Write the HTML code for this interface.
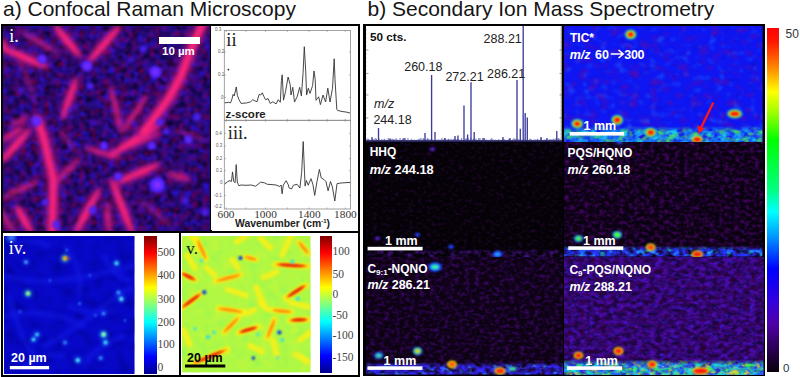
<!DOCTYPE html><html><head><meta charset="utf-8"><style>
html,body{margin:0;padding:0;background:#fff;}
#root{position:relative;width:800px;height:377px;overflow:hidden;background:#fff;font-family:'Liberation Sans',sans-serif;}
.a{position:absolute;}
.t{position:absolute;white-space:nowrap;line-height:1;}
.w{color:#fff;font-weight:bold;font-size:12px;}
</style></head><body><div id="root">
<div class="t" style="left:3px;top:-1.8px;font-size:21px;color:#151515;">a) Confocal Raman Microscopy</div>
<div class="t" style="left:367.5px;top:-1.6px;font-size:21px;color:#151515;">b) Secondary Ion Mass Spectrometry</div>
<div class="a" style="left:1px;top:24px;width:359px;height:353px;box-sizing:border-box;border:2px solid #000;border-right-width:2.5px;"></div>
<svg class="a" style="left:3px;top:26px" width="207" height="205" viewBox="0 0 207 205"><defs><filter color-interpolation-filters="sRGB" id="nib" x="0" y="0" width="100%" height="100%"><feTurbulence type="fractalNoise" baseFrequency="0.14" numOctaves="2" seed="3"/><feColorMatrix type="matrix" values="0 0 0 0 0.16  0 0 0 0 0.08  0 0 0 0 0.92  2.6 0 0 0 -1.05"/><feGaussianBlur stdDeviation="0.8"/></filter><filter color-interpolation-filters="sRGB" id="nid" x="0" y="0" width="100%" height="100%"><feTurbulence type="fractalNoise" baseFrequency="0.17" numOctaves="2" seed="8"/><feColorMatrix type="matrix" values="0 0 0 0 0.05  0 0 0 0 0.01  0 0 0 0 0.16  2.6 0 0 0 -1.0"/><feGaussianBlur stdDeviation="0.8"/></filter><filter color-interpolation-filters="sRGB" id="nir" x="0" y="0" width="100%" height="100%"><feTurbulence type="fractalNoise" baseFrequency="0.17" numOctaves="2" seed="13"/><feColorMatrix type="matrix" values="0 0 0 0 0.45  0 0 0 0 0.0  0 0 0 0 0.32  2.6 0 0 0 -1.2"/><feGaussianBlur stdDeviation="0.8"/></filter><filter color-interpolation-filters="sRGB" id="bi" x="-20%" y="-20%" width="140%" height="140%"><feGaussianBlur stdDeviation="1.9"/></filter><filter color-interpolation-filters="sRGB" id="bg" x="-20%" y="-20%" width="140%" height="140%"><feGaussianBlur stdDeviation="3.2"/></filter><filter color-interpolation-filters="sRGB" id="bb" x="-50%" y="-50%" width="200%" height="200%"><feGaussianBlur stdDeviation="1.8"/></filter></defs><rect width="207" height="205" fill="#2a0c80"/><rect width="207" height="205" filter="url(#nib)"/><rect width="207" height="205" filter="url(#nid)"/><rect width="207" height="205" filter="url(#nir)"/><g filter="url(#bg)"><ellipse cx="22.3" cy="31.8" rx="27.0" ry="6.30" transform="rotate(23.2 22.3 31.8)" fill="#c01890" fill-opacity="0.55"/><ellipse cx="36.2" cy="16.2" rx="24.7" ry="5.25" transform="rotate(30.3 36.2 16.2)" fill="#c01890" fill-opacity="0.275"/><ellipse cx="64.3" cy="14.9" rx="23.3" ry="6.30" transform="rotate(51.2 64.3 14.9)" fill="#c01890" fill-opacity="0.55"/><ellipse cx="101.0" cy="18.4" rx="26.9" ry="6.30" transform="rotate(130.9 101.0 18.4)" fill="#c01890" fill-opacity="0.55"/><ellipse cx="66.5" cy="72.4" rx="24.9" ry="5.78" transform="rotate(109.5 66.5 72.4)" fill="#c01890" fill-opacity="0.55"/><ellipse cx="113.0" cy="83.3" rx="26.8" ry="4.73" transform="rotate(76.4 113.0 83.3)" fill="#c01890" fill-opacity="0.385"/><ellipse cx="131.8" cy="87.5" rx="25.3" ry="4.73" transform="rotate(124.0 131.8 87.5)" fill="#c01890" fill-opacity="0.385"/><ellipse cx="1.0" cy="20.5" rx="9.6" ry="5.25" transform="rotate(70.0 1.0 20.5)" fill="#c01890" fill-opacity="0.49500000000000005"/><ellipse cx="16.5" cy="95.0" rx="13.5" ry="4.20" transform="rotate(-25.2 16.5 95.0)" fill="#c01890" fill-opacity="0.33"/><ellipse cx="12.4" cy="119.6" rx="24.1" ry="6.30" transform="rotate(-48.1 12.4 119.6)" fill="#c01890" fill-opacity="0.55"/><ellipse cx="9.5" cy="108.0" rx="15.6" ry="5.25" transform="rotate(-32.3 9.5 108.0)" fill="#c01890" fill-opacity="0.385"/><ellipse cx="64.3" cy="144.8" rx="20.8" ry="5.25" transform="rotate(-44.5 64.3 144.8)" fill="#c01890" fill-opacity="0.33"/><ellipse cx="18.1" cy="163.0" rx="22.0" ry="5.25" transform="rotate(-24.4 18.1 163.0)" fill="#c01890" fill-opacity="0.33"/><ellipse cx="21.0" cy="193.8" rx="18.8" ry="6.30" transform="rotate(60.3 21.0 193.8)" fill="#c01890" fill-opacity="0.55"/><ellipse cx="4.0" cy="195.0" rx="17.6" ry="5.25" transform="rotate(57.5 4.0 195.0)" fill="#c01890" fill-opacity="0.33"/><ellipse cx="84.2" cy="185.3" rx="29.3" ry="6.30" transform="rotate(118.5 84.2 185.3)" fill="#c01890" fill-opacity="0.55"/><ellipse cx="99.5" cy="126.8" rx="21.0" ry="5.25" transform="rotate(15.3 99.5 126.8)" fill="#c01890" fill-opacity="0.385"/><ellipse cx="131.9" cy="114.0" rx="32.6" ry="6.30" transform="rotate(-31.9 131.9 114.0)" fill="#c01890" fill-opacity="0.55"/><ellipse cx="134.7" cy="147.5" rx="27.0" ry="6.30" transform="rotate(-23.3 134.7 147.5)" fill="#c01890" fill-opacity="0.55"/><ellipse cx="175.6" cy="150.6" rx="14.5" ry="5.25" transform="rotate(15.9 175.6 150.6)" fill="#c01890" fill-opacity="0.385"/><ellipse cx="119.2" cy="181.0" rx="33.1" ry="6.30" transform="rotate(68.7 119.2 181.0)" fill="#c01890" fill-opacity="0.55"/><ellipse cx="105.2" cy="192.3" rx="18.4" ry="5.25" transform="rotate(84.1 105.2 192.3)" fill="#c01890" fill-opacity="0.385"/><ellipse cx="137.6" cy="115.4" rx="23.5" ry="5.25" transform="rotate(-22.7 137.6 115.4)" fill="#c01890" fill-opacity="0.33"/><ellipse cx="64.5" cy="114.0" rx="17.0" ry="4.20" transform="rotate(53.1 64.5 114.0)" fill="#c01890" fill-opacity="0.1925"/><ellipse cx="152.0" cy="186.5" rx="24.9" ry="4.20" transform="rotate(39.8 152.0 186.5)" fill="#c01890" fill-opacity="0.1925"/><ellipse cx="187.0" cy="109.0" rx="20.7" ry="4.20" transform="rotate(18.4 187.0 109.0)" fill="#c01890" fill-opacity="0.165"/><ellipse cx="24.5" cy="54.0" rx="26.9" ry="4.20" transform="rotate(69.4 24.5 54.0)" fill="#c01890" fill-opacity="0.165"/></g><g filter="url(#bi)"><ellipse cx="22.3" cy="31.8" rx="24.0" ry="2.85" transform="rotate(23.2 22.3 31.8)" fill="#ff2478" fill-opacity="1"/><ellipse cx="36.2" cy="16.2" rx="21.7" ry="2.38" transform="rotate(30.3 36.2 16.2)" fill="#ff2478" fill-opacity="0.5"/><ellipse cx="64.3" cy="14.9" rx="20.3" ry="2.85" transform="rotate(51.2 64.3 14.9)" fill="#ff2478" fill-opacity="1"/><ellipse cx="101.0" cy="18.4" rx="23.9" ry="2.85" transform="rotate(130.9 101.0 18.4)" fill="#ff2478" fill-opacity="1"/><ellipse cx="66.5" cy="72.4" rx="21.9" ry="2.61" transform="rotate(109.5 66.5 72.4)" fill="#ff2478" fill-opacity="1"/><ellipse cx="113.0" cy="83.3" rx="23.8" ry="2.14" transform="rotate(76.4 113.0 83.3)" fill="#ff2478" fill-opacity="0.7"/><ellipse cx="131.8" cy="87.5" rx="22.3" ry="2.14" transform="rotate(124.0 131.8 87.5)" fill="#ff2478" fill-opacity="0.7"/><ellipse cx="1.0" cy="20.5" rx="6.6" ry="2.38" transform="rotate(70.0 1.0 20.5)" fill="#ff2478" fill-opacity="0.9"/><ellipse cx="16.5" cy="95.0" rx="10.5" ry="1.90" transform="rotate(-25.2 16.5 95.0)" fill="#ff2478" fill-opacity="0.6"/><ellipse cx="12.4" cy="119.6" rx="21.1" ry="2.85" transform="rotate(-48.1 12.4 119.6)" fill="#ff2478" fill-opacity="1"/><ellipse cx="9.5" cy="108.0" rx="12.6" ry="2.38" transform="rotate(-32.3 9.5 108.0)" fill="#ff2478" fill-opacity="0.7"/><ellipse cx="64.3" cy="144.8" rx="17.8" ry="2.38" transform="rotate(-44.5 64.3 144.8)" fill="#ff2478" fill-opacity="0.6"/><ellipse cx="18.1" cy="163.0" rx="19.0" ry="2.38" transform="rotate(-24.4 18.1 163.0)" fill="#ff2478" fill-opacity="0.6"/><ellipse cx="21.0" cy="193.8" rx="15.8" ry="2.85" transform="rotate(60.3 21.0 193.8)" fill="#ff2478" fill-opacity="1"/><ellipse cx="4.0" cy="195.0" rx="14.6" ry="2.38" transform="rotate(57.5 4.0 195.0)" fill="#ff2478" fill-opacity="0.6"/><ellipse cx="84.2" cy="185.3" rx="26.3" ry="2.85" transform="rotate(118.5 84.2 185.3)" fill="#ff2478" fill-opacity="1"/><ellipse cx="99.5" cy="126.8" rx="18.0" ry="2.38" transform="rotate(15.3 99.5 126.8)" fill="#ff2478" fill-opacity="0.7"/><ellipse cx="131.9" cy="114.0" rx="29.6" ry="2.85" transform="rotate(-31.9 131.9 114.0)" fill="#ff2478" fill-opacity="1"/><ellipse cx="134.7" cy="147.5" rx="24.0" ry="2.85" transform="rotate(-23.3 134.7 147.5)" fill="#ff2478" fill-opacity="1"/><ellipse cx="175.6" cy="150.6" rx="11.5" ry="2.38" transform="rotate(15.9 175.6 150.6)" fill="#ff2478" fill-opacity="0.7"/><ellipse cx="119.2" cy="181.0" rx="30.1" ry="2.85" transform="rotate(68.7 119.2 181.0)" fill="#ff2478" fill-opacity="1"/><ellipse cx="105.2" cy="192.3" rx="15.4" ry="2.38" transform="rotate(84.1 105.2 192.3)" fill="#ff2478" fill-opacity="0.7"/><ellipse cx="137.6" cy="115.4" rx="20.5" ry="2.38" transform="rotate(-22.7 137.6 115.4)" fill="#ff2478" fill-opacity="0.6"/><ellipse cx="64.5" cy="114.0" rx="14.0" ry="1.90" transform="rotate(53.1 64.5 114.0)" fill="#ff2478" fill-opacity="0.35"/><ellipse cx="152.0" cy="186.5" rx="21.9" ry="1.90" transform="rotate(39.8 152.0 186.5)" fill="#ff2478" fill-opacity="0.35"/><ellipse cx="187.0" cy="109.0" rx="17.7" ry="1.90" transform="rotate(18.4 187.0 109.0)" fill="#ff2478" fill-opacity="0.3"/><ellipse cx="24.5" cy="54.0" rx="23.9" ry="1.90" transform="rotate(69.4 24.5 54.0)" fill="#ff2478" fill-opacity="0.3"/></g><g filter="url(#bg)" fill="none" stroke="#c01890" stroke-opacity="0.55" stroke-linecap="round" stroke-linejoin="round"><polyline stroke-width="15.8" points="199,-1 189,21 178,50 166,72 150,94 141,106"/><polyline stroke-width="14.7" points="35,94 42,117 50.4,153.4 49,206"/></g><g filter="url(#bi)" fill="none" stroke="#ff2478" stroke-linecap="round" stroke-linejoin="round"><polyline stroke-width="7.1" points="199,-1 189,21 178,50 166,72 150,94 141,106"/><polyline stroke-width="6.6" points="35,94 42,117 50.4,153.4 49,206"/></g><g filter="url(#bb)" fill="#4a22ff"><circle cx="39" cy="33" r="4.6" fill-opacity="1"/><circle cx="84" cy="40" r="5.75" fill-opacity="1"/><circle cx="152.5" cy="46" r="6.324999999999999" fill-opacity="1"/><circle cx="140" cy="23" r="3.4499999999999997" fill-opacity="0.8800000000000001"/><circle cx="87" cy="60" r="3.4499999999999997" fill-opacity="0.8800000000000001"/><circle cx="33.5" cy="95" r="5.175" fill-opacity="1"/><circle cx="194" cy="91" r="4.0249999999999995" fill-opacity="0.8800000000000001"/><circle cx="157" cy="96" r="3.4499999999999997" fill-opacity="0.8800000000000001"/><circle cx="101" cy="119.69999999999999" r="4.0249999999999995" fill-opacity="1"/><circle cx="148.8" cy="119.69999999999999" r="4.0249999999999995" fill-opacity="1"/><circle cx="185.4" cy="114" r="4.0249999999999995" fill-opacity="1"/><circle cx="154.4" cy="159" r="8.049999999999999" fill-opacity="1"/><circle cx="115" cy="150.6" r="4.0249999999999995" fill-opacity="0.9900000000000001"/><circle cx="89.8" cy="184" r="4.0249999999999995" fill-opacity="0.8800000000000001"/><circle cx="53" cy="198.4" r="4.0249999999999995" fill-opacity="0.8800000000000001"/><circle cx="202" cy="187" r="3.4499999999999997" fill-opacity="0.8800000000000001"/><circle cx="42" cy="176" r="3.4499999999999997" fill-opacity="0.8800000000000001"/><circle cx="163" cy="105.6" r="3.4499999999999997" fill-opacity="0.8800000000000001"/><circle cx="67" cy="84" r="2.875" fill-opacity="0.66"/><circle cx="127" cy="34" r="2.875" fill-opacity="0.66"/><circle cx="17" cy="64" r="2.875" fill-opacity="0.66"/><circle cx="182" cy="174" r="3.4499999999999997" fill-opacity="0.77"/></g><g filter="url(#bi)" fill="#b838ff"><circle cx="39" cy="33" r="2.0" fill-opacity="0.8"/><circle cx="84" cy="40" r="2.5" fill-opacity="0.8"/><circle cx="152.5" cy="46" r="2.75" fill-opacity="0.8"/><circle cx="33.5" cy="95" r="2.25" fill-opacity="0.8"/><circle cx="101" cy="119.69999999999999" r="1.75" fill-opacity="0.8"/><circle cx="148.8" cy="119.69999999999999" r="1.75" fill-opacity="0.8"/><circle cx="185.4" cy="114" r="1.75" fill-opacity="0.8"/><circle cx="154.4" cy="159" r="3.5" fill-opacity="0.8"/><circle cx="115" cy="150.6" r="1.75" fill-opacity="0.8"/></g><rect x="156" y="11" width="41" height="7" fill="#fff"/></svg>
<div class="t" style="left:162px;top:46px;font-size:11.5px;font-weight:bold;color:#fff;">10 µm</div>
<div class="t" style="left:9.3px;top:26.9px;font-size:18px;color:#fff;font-family:'Liberation Serif',serif;">i.</div>
<div class="a" style="left:210px;top:26px;width:1.8px;height:205px;background:#000;"></div>
<div class="a" style="left:1px;top:230.5px;width:359px;height:2.5px;background:#000;"></div>
<div class="a" style="left:179px;top:232px;width:2px;height:144px;background:#000;"></div>
<svg class="a" style="left:211px;top:26px" width="146" height="204" viewBox="211 26 146 204"><rect x="211" y="26" width="146" height="204" fill="#fff"/><rect x="224.3" y="30.5" width="126.3" height="89.8" fill="none" stroke="#8a8a8a" stroke-width="0.8"/><rect x="224.3" y="120.3" width="126.3" height="88.7" fill="none" stroke="#8a8a8a" stroke-width="0.8"/><line x1="224.3" y1="52" x2="226" y2="52" stroke="#888" stroke-width="0.6"/><line x1="348.9" y1="52" x2="350.6" y2="52" stroke="#888" stroke-width="0.6"/><line x1="224.3" y1="75" x2="226" y2="75" stroke="#888" stroke-width="0.6"/><line x1="348.9" y1="75" x2="350.6" y2="75" stroke="#888" stroke-width="0.6"/><line x1="224.3" y1="97.5" x2="226" y2="97.5" stroke="#888" stroke-width="0.6"/><line x1="348.9" y1="97.5" x2="350.6" y2="97.5" stroke="#888" stroke-width="0.6"/><line x1="224.3" y1="133.4" x2="226" y2="133.4" stroke="#888" stroke-width="0.6"/><line x1="348.9" y1="133.4" x2="350.6" y2="133.4" stroke="#888" stroke-width="0.6"/><line x1="224.3" y1="146" x2="226" y2="146" stroke="#888" stroke-width="0.6"/><line x1="348.9" y1="146" x2="350.6" y2="146" stroke="#888" stroke-width="0.6"/><line x1="224.3" y1="158.6" x2="226" y2="158.6" stroke="#888" stroke-width="0.6"/><line x1="348.9" y1="158.6" x2="350.6" y2="158.6" stroke="#888" stroke-width="0.6"/><line x1="224.3" y1="170.7" x2="226" y2="170.7" stroke="#888" stroke-width="0.6"/><line x1="348.9" y1="170.7" x2="350.6" y2="170.7" stroke="#888" stroke-width="0.6"/><line x1="224.3" y1="182.7" x2="226" y2="182.7" stroke="#888" stroke-width="0.6"/><line x1="348.9" y1="182.7" x2="350.6" y2="182.7" stroke="#888" stroke-width="0.6"/><line x1="224.3" y1="195.5" x2="226" y2="195.5" stroke="#888" stroke-width="0.6"/><line x1="348.9" y1="195.5" x2="350.6" y2="195.5" stroke="#888" stroke-width="0.6"/><line x1="226.3" y1="30.5" x2="226.3" y2="32" stroke="#888" stroke-width="0.6"/><line x1="226.3" y1="207.5" x2="226.3" y2="209" stroke="#888" stroke-width="0.6"/><line x1="226.3" y1="118.8" x2="226.3" y2="121.8" stroke="#888" stroke-width="0.6"/><line x1="245.9" y1="30.5" x2="245.9" y2="32" stroke="#888" stroke-width="0.6"/><line x1="245.9" y1="207.5" x2="245.9" y2="209" stroke="#888" stroke-width="0.6"/><line x1="245.9" y1="118.8" x2="245.9" y2="121.8" stroke="#888" stroke-width="0.6"/><line x1="265.5" y1="30.5" x2="265.5" y2="32" stroke="#888" stroke-width="0.6"/><line x1="265.5" y1="207.5" x2="265.5" y2="209" stroke="#888" stroke-width="0.6"/><line x1="265.5" y1="118.8" x2="265.5" y2="121.8" stroke="#888" stroke-width="0.6"/><line x1="287.3" y1="30.5" x2="287.3" y2="32" stroke="#888" stroke-width="0.6"/><line x1="287.3" y1="207.5" x2="287.3" y2="209" stroke="#888" stroke-width="0.6"/><line x1="287.3" y1="118.8" x2="287.3" y2="121.8" stroke="#888" stroke-width="0.6"/><line x1="309.1" y1="30.5" x2="309.1" y2="32" stroke="#888" stroke-width="0.6"/><line x1="309.1" y1="207.5" x2="309.1" y2="209" stroke="#888" stroke-width="0.6"/><line x1="309.1" y1="118.8" x2="309.1" y2="121.8" stroke="#888" stroke-width="0.6"/><line x1="327.1" y1="30.5" x2="327.1" y2="32" stroke="#888" stroke-width="0.6"/><line x1="327.1" y1="207.5" x2="327.1" y2="209" stroke="#888" stroke-width="0.6"/><line x1="327.1" y1="118.8" x2="327.1" y2="121.8" stroke="#888" stroke-width="0.6"/><line x1="345.2" y1="30.5" x2="345.2" y2="32" stroke="#888" stroke-width="0.6"/><line x1="345.2" y1="207.5" x2="345.2" y2="209" stroke="#888" stroke-width="0.6"/><line x1="345.2" y1="118.8" x2="345.2" y2="121.8" stroke="#888" stroke-width="0.6"/><polyline fill="none" stroke="#333" stroke-width="0.9" stroke-linejoin="round" points="224.7,102.9 228.4,102.3 230.5,102.9 232.1,98.6 233.1,94.4 234.2,96 236.3,87 237.4,95.5 239,99.7 241.1,103.4 246.4,103 250.6,101.8 252.8,99.7 254.9,100.8 257,101.8 259.1,94.4 260.7,95 262.3,92.8 263.9,96.5 265.5,99.7 268.1,98.6 270.2,103.4 272.9,101.8 276.1,103.9 278.2,99.7 280.3,102.3 281.4,80.6 282.2,74.8 283.5,100.2 285.6,91.2 288.1,77 290.2,84.7 291,95 292.8,87.3 294.5,102 297.1,96.8 299.7,87.3 301.4,96 303.1,72.6 304.3,46.7 305.7,70.9 306.6,95 308.3,88.2 310,93.4 312.6,85.6 314,70.9 315.2,79.5 316,100.3 318.7,96.8 320.4,104.6 323,95 325.6,102 327.8,88.2 330,102 332.5,88.2 334.2,58.8 335,79.5 336.8,109.5 338,110.5 342,111.5 346,112 350,113"/><polyline fill="none" stroke="#333" stroke-width="0.9" stroke-linejoin="round" points="224.9,184.3 227.8,181.4 230,180.7 231.5,181.4 232.5,171.9 233.7,181.4 235.1,182.8 236.2,164.6 237.3,182.1 238.8,185.8 241,185 246,185.3 251.2,185 255.6,186.2 260.7,182.1 264.3,182.8 267.3,184.3 273,184.7 276,185 279.7,186.5 281.1,185 282.1,193.8 283.3,185 286.2,180.7 288.4,185 289.1,188 291.5,189 293.4,185.2 297.1,184.3 299.9,188 301.7,172.2 303.2,141.5 304.5,172.2 305.1,186.1 306.4,180.5 308.2,185.2 311,178.7 312.9,184.3 314.7,195.4 317,181.5 319.4,169.4 321.2,177.8 324,179.6 325.9,181.5 328.1,190.8 330.5,181.5 332.4,187 334.8,201 337,183.7 340.8,183 350,182.4"/><circle cx="228.4" cy="69.6" r="0.9" fill="#222"/></svg>
<div class="t" style="left:215px;top:28px;font-size:4.5px;color:#555;">0.3</div>
<div class="t" style="left:218px;top:50px;font-size:4.5px;color:#555;">0.2</div>
<div class="t" style="left:218px;top:73px;font-size:4.5px;color:#555;">0.1</div>
<div class="t" style="left:221px;top:95.5px;font-size:4.5px;color:#555;">0</div>
<div class="t" style="left:215.5px;top:131.5px;font-size:4.5px;color:#555;">0.4</div>
<div class="t" style="left:216px;top:144px;font-size:4.5px;color:#555;">0.3</div>
<div class="t" style="left:216px;top:156.6px;font-size:4.5px;color:#555;">0.2</div>
<div class="t" style="left:216px;top:168.7px;font-size:4.5px;color:#555;">0.1</div>
<div class="t" style="left:220px;top:180.7px;font-size:4.5px;color:#555;">0</div>
<div class="t" style="left:214px;top:193.5px;font-size:4.5px;color:#555;">-0.1</div>
<div class="t" style="left:214px;top:205px;font-size:4.5px;color:#555;">-0.2</div>
<div class="t" style="left:226.3px;top:31px;font-size:18.5px;color:#222;font-family:'Liberation Serif',serif;">ii</div>
<div class="t" style="left:227.8px;top:124.2px;font-size:18.3px;color:#222;font-family:'Liberation Serif',serif;">iii.</div>
<div class="t" style="left:225.5px;top:108.5px;font-size:11.5px;font-weight:bold;color:#222;">z-score</div>
<div class="t" style="left:217.5px;top:208.5px;font-size:11.3px;color:#333;font-family:'Liberation Serif',serif;">600</div>
<div class="t" style="left:254.2px;top:208.5px;font-size:11.3px;color:#333;font-family:'Liberation Serif',serif;">1000</div>
<div class="t" style="left:298px;top:208.5px;font-size:11.3px;color:#333;font-family:'Liberation Serif',serif;">1400</div>
<div class="t" style="left:334.1px;top:208.5px;font-size:11.3px;color:#333;font-family:'Liberation Serif',serif;">1800</div>
<div class="t" style="left:235px;top:218px;font-size:10.4px;font-weight:bold;color:#222;">Wavenumber (cm<sup style="font-size:6px;vertical-align:4px">-1</sup>)</div>
<svg class="a" style="left:4px;top:235.5px" width="130.5" height="138"><defs><filter color-interpolation-filters="sRGB" id="b4" x="-50%" y="-50%" width="200%" height="200%"><feGaussianBlur stdDeviation="0.8"/></filter><filter color-interpolation-filters="sRGB" id="b4s" x="-20%" y="-20%" width="140%" height="140%"><feGaussianBlur stdDeviation="2"/></filter></defs><rect width="130.5" height="138" fill="#0808c8"/><defs><filter color-interpolation-filters="sRGB" id="n4d" x="0" y="0" width="100%" height="100%"><feTurbulence type="fractalNoise" baseFrequency="0.08" numOctaves="2" seed="91"/><feColorMatrix type="matrix" values="0 0 0 0 0.0  0 0 0 0 0.0  0 0 0 0 0.5  2.2 0 0 0 -1.0"/><feGaussianBlur stdDeviation="1.5"/></filter></defs><rect width="130.5" height="138" filter="url(#n4d)" opacity="0.6"/><g filter="url(#b4s)" stroke="#1a28ff" stroke-width="3.5" stroke-opacity="0.45" fill="none" stroke-linecap="round"><path d="M0 40 Q30 48 60 44 T130 30"/><path d="M10 8 Q30 2 45 10"/><path d="M60 10 Q80 30 75 60"/><path d="M0 80 Q40 70 80 90"/><path d="M40 110 Q70 95 100 70 T130 55"/><path d="M20 130 Q40 115 60 120"/><path d="M80 130 Q90 110 120 100"/><path d="M100 20 Q110 40 125 45"/><path d="M5 60 Q15 100 30 120"/><path d="M65 70 Q85 80 110 75"/></g><circle cx="7.4" cy="1.5" r="4" fill="#3a8aff" filter="url(#b4s)"/><g filter="url(#b4s)"><circle cx="60.900000000000006" cy="22.399999999999977" r="3.4499999999999997" fill="#30e0ff" fill-opacity="0.75"/><circle cx="22" cy="26.100000000000023" r="2.55" fill="#2060ff" fill-opacity="0.75"/><circle cx="24" cy="57.5" r="3.4499999999999997" fill="#20c0ff" fill-opacity="0.75"/><circle cx="112.5" cy="27.19999999999999" r="3.0" fill="#2080ff" fill-opacity="0.75"/><circle cx="114.4" cy="56.5" r="2.55" fill="#2060ff" fill-opacity="0.75"/><circle cx="117.3" cy="63.0" r="3.0" fill="#2090ff" fill-opacity="0.75"/><circle cx="99.6" cy="77.5" r="2.4000000000000004" fill="#2060ff" fill-opacity="0.75"/><circle cx="99.6" cy="98.5" r="3.5999999999999996" fill="#20c0ff" fill-opacity="0.75"/><circle cx="101.5" cy="106.5" r="3.0" fill="#2080ff" fill-opacity="0.75"/><circle cx="33" cy="98.5" r="2.7" fill="#2080ff" fill-opacity="0.75"/><circle cx="29.5" cy="103.5" r="2.7" fill="#2080ff" fill-opacity="0.75"/><circle cx="61" cy="106.5" r="2.4000000000000004" fill="#2060ff" fill-opacity="0.75"/><circle cx="73.8" cy="124.19999999999999" r="3.0" fill="#2090ff" fill-opacity="0.75"/><circle cx="96.7" cy="122.0" r="2.4000000000000004" fill="#2060ff" fill-opacity="0.75"/></g><g filter="url(#b4)"><circle cx="60.900000000000006" cy="22.399999999999977" r="2.3" fill="#ffb000"/><circle cx="22" cy="26.100000000000023" r="1.7" fill="#60c0ff"/><circle cx="24" cy="57.5" r="2.3" fill="#a0ff80"/><circle cx="112.5" cy="27.19999999999999" r="2" fill="#40e0ff"/><circle cx="114.4" cy="56.5" r="1.7" fill="#40b0ff"/><circle cx="117.3" cy="63.0" r="2" fill="#60f0ff"/><circle cx="75.6" cy="67.5" r="1.5" fill="#3080ff"/><circle cx="99.6" cy="77.5" r="1.6" fill="#40a0ff"/><circle cx="91.5" cy="79.5" r="1.2" fill="#3080ff"/><circle cx="99.6" cy="98.5" r="2.4" fill="#80ffc0"/><circle cx="101.5" cy="106.5" r="2" fill="#40e0ff"/><circle cx="33" cy="98.5" r="1.8" fill="#40e0ff"/><circle cx="29.5" cy="103.5" r="1.8" fill="#50f0ff"/><circle cx="61" cy="106.5" r="1.6" fill="#40a0ff"/><circle cx="73.8" cy="124.19999999999999" r="2" fill="#50f0ff"/><circle cx="96.7" cy="122.0" r="1.6" fill="#40b0ff"/><circle cx="62.7" cy="14.300000000000011" r="1.3" fill="#3080ff"/><circle cx="16" cy="75.5" r="1.3" fill="#2a70ff"/><circle cx="46" cy="44.5" r="1.2" fill="#2a70ff"/><circle cx="86" cy="39.5" r="1.2" fill="#2a70ff"/><circle cx="121" cy="84.5" r="1.3" fill="#2a70ff"/></g><circle cx="64.9" cy="22.4" r="1.1" fill="#ff3000" filter="url(#b4)"/><rect x="5.800000000000001" y="130.0" width="39.3" height="3.3" fill="#fff"/></svg>
<div class="t" style="left:11px;top:352px;font-size:12.5px;font-weight:bold;color:#fff;">20 µm</div>
<div class="t" style="left:8.8px;top:238.9px;font-size:18px;color:#fff;font-family:'Liberation Serif',serif;">iv.</div>
<div class="a" style="left:144px;top:236px;width:12.5px;height:137.5px;background:linear-gradient(to top,#00008f 0%,#0000ff 12.5%,#00ffff 37.5%,#ffff00 62.5%,#ff0000 87.5%,#800000 100%);"></div>
<div class="t" style="left:157.5px;top:247px;font-size:11.5px;color:#444;font-family:'Liberation Serif',serif;">500</div>
<div class="t" style="left:157.5px;top:270px;font-size:11.5px;color:#444;font-family:'Liberation Serif',serif;">400</div>
<div class="t" style="left:157.5px;top:293.6px;font-size:11.5px;color:#444;font-family:'Liberation Serif',serif;">300</div>
<div class="t" style="left:157.5px;top:316.7px;font-size:11.5px;color:#444;font-family:'Liberation Serif',serif;">200</div>
<div class="t" style="left:157.5px;top:339px;font-size:11.5px;color:#444;font-family:'Liberation Serif',serif;">100</div>
<div class="t" style="left:157.5px;top:362px;font-size:11.5px;color:#444;font-family:'Liberation Serif',serif;">0</div>
<svg class="a" style="left:182px;top:236.3px" width="128.5" height="136.3" viewBox="182 236.3 128.5 136.3"><defs><filter color-interpolation-filters="sRGB" id="b5" x="-30%" y="-30%" width="160%" height="160%"><feGaussianBlur stdDeviation="1.1"/></filter><filter color-interpolation-filters="sRGB" id="b5y" x="-30%" y="-30%" width="160%" height="160%"><feGaussianBlur stdDeviation="1.6"/></filter></defs><rect x="182" y="236.3" width="128.5" height="136.3" fill="#b0f844"/><defs><filter color-interpolation-filters="sRGB" id="v5n" x="0" y="0" width="100%" height="100%"><feTurbulence type="fractalNoise" baseFrequency="0.1" numOctaves="2" seed="77"/><feColorMatrix type="matrix" values="0 0 0 0 0.5  0 0 0 0 0.96  0 0 0 0 0.36  2.2 0 0 0 -1.1"/><feGaussianBlur stdDeviation="1.0"/></filter><filter color-interpolation-filters="sRGB" id="v5m" x="0" y="0" width="100%" height="100%"><feTurbulence type="fractalNoise" baseFrequency="0.1" numOctaves="2" seed="79"/><feColorMatrix type="matrix" values="0 0 0 0 0.85  0 0 0 0 0.96  0 0 0 0 0.2  0 2.2 0 0 -1.1"/><feGaussianBlur stdDeviation="1.0"/></filter></defs><rect x="182" y="236.3" width="128.5" height="136.3" filter="url(#v5n)" opacity="0.55"/><rect x="182" y="236.3" width="128.5" height="136.3" filter="url(#v5m)" opacity="0.7"/><g filter="url(#b5y)" stroke="#fff014" stroke-linecap="round" fill="none" stroke-width="5.6"><line x1="197.7" y1="240.6" x2="206" y2="259.2" stroke-opacity="0.95"/><line x1="186.6" y1="255.4" x2="195" y2="268.5" stroke-opacity="0.85"/><line x1="181" y1="273" x2="195.9" y2="280.5" stroke-opacity="0.95"/><line x1="216.3" y1="281.5" x2="240.5" y2="275" stroke-opacity="0.95"/><line x1="181" y1="308.6" x2="201.4" y2="293.5" stroke-opacity="0.95"/><line x1="274.7" y1="264.7" x2="308.2" y2="266.6" stroke-opacity="0.95"/><line x1="298.9" y1="242.4" x2="308.2" y2="253.6" stroke-opacity="0.95"/><line x1="291.5" y1="235" x2="282.2" y2="255.4" stroke-opacity="0.85"/><line x1="245" y1="257.3" x2="256.2" y2="260" stroke-opacity="0.95"/><line x1="285.9" y1="298.2" x2="306.3" y2="285.2" stroke-opacity="0.95"/><line x1="263.6" y1="277.8" x2="276.6" y2="272.2" stroke-opacity="0.85"/><line x1="256.2" y1="287" x2="263.6" y2="305" stroke-opacity="0.85"/><line x1="218.2" y1="308.6" x2="242.3" y2="312.3" stroke-opacity="0.95"/><line x1="223.8" y1="332.7" x2="238.6" y2="317.9" stroke-opacity="0.95"/><line x1="192.2" y1="364.3" x2="227.5" y2="349.5" stroke-opacity="0.95"/><line x1="238.6" y1="333" x2="258" y2="327.2" stroke-opacity="0.95"/><line x1="272.9" y1="310.4" x2="291.5" y2="312.3" stroke-opacity="0.95"/><line x1="289.6" y1="320.7" x2="308.2" y2="319.7" stroke-opacity="0.95"/><line x1="274.7" y1="319.7" x2="267.3" y2="338.3" stroke-opacity="0.95"/><line x1="272.9" y1="340.2" x2="276.6" y2="355" stroke-opacity="0.85"/><line x1="260" y1="303" x2="268" y2="310" stroke-opacity="0.85"/><line x1="245" y1="314" x2="255" y2="310" stroke-opacity="0.85"/><line x1="290" y1="303" x2="308" y2="307" stroke-opacity="0.85"/><line x1="236.8" y1="242.4" x2="247" y2="235" stroke-opacity="0.85"/><line x1="190" y1="236" x2="196" y2="241" stroke-opacity="0.85"/><line x1="195" y1="238" x2="198" y2="249" stroke-opacity="0.85"/><line x1="206" y1="268" x2="214" y2="275" stroke-opacity="0.85"/><line x1="250" y1="346" x2="262" y2="352" stroke-opacity="0.85"/><line x1="300" y1="340" x2="310" y2="333" stroke-opacity="0.85"/><line x1="228" y1="290" x2="246" y2="296" stroke-opacity="0.85"/><line x1="260" y1="238" x2="270" y2="248" stroke-opacity="0.85"/><line x1="183" y1="330" x2="190" y2="345" stroke-opacity="0.85"/><line x1="296" y1="355" x2="308" y2="362" stroke-opacity="0.85"/><line x1="232" y1="260" x2="238" y2="268" stroke-opacity="0.85"/></g><g filter="url(#b5)"><ellipse cx="201.8" cy="249.9" rx="10.6" ry="1.60" transform="rotate(66.0 201.8 249.9)" fill="#ff8c0c" fill-opacity="1"/><ellipse cx="188.4" cy="276.8" rx="8.9" ry="1.60" transform="rotate(26.7 188.4 276.8)" fill="#ff8c0c" fill-opacity="1"/><ellipse cx="228.4" cy="278.2" rx="12.9" ry="1.60" transform="rotate(-15.0 228.4 278.2)" fill="#ff8c0c" fill-opacity="1"/><ellipse cx="191.2" cy="301.1" rx="13.0" ry="1.60" transform="rotate(-36.5 191.2 301.1)" fill="#ff8c0c" fill-opacity="1"/><ellipse cx="291.4" cy="265.6" rx="16.9" ry="1.60" transform="rotate(3.2 291.4 265.6)" fill="#ff8c0c" fill-opacity="1"/><ellipse cx="303.5" cy="248.0" rx="7.9" ry="1.60" transform="rotate(50.3 303.5 248.0)" fill="#ff8c0c" fill-opacity="1"/><ellipse cx="250.6" cy="258.6" rx="6.4" ry="1.60" transform="rotate(13.6 250.6 258.6)" fill="#ff8c0c" fill-opacity="1"/><ellipse cx="296.1" cy="291.7" rx="12.5" ry="1.60" transform="rotate(-32.5 296.1 291.7)" fill="#ff8c0c" fill-opacity="1"/><ellipse cx="230.2" cy="310.5" rx="12.5" ry="1.60" transform="rotate(8.7 230.2 310.5)" fill="#ff8c0c" fill-opacity="1"/><ellipse cx="231.2" cy="325.3" rx="10.9" ry="1.60" transform="rotate(-45.0 231.2 325.3)" fill="#ff8c0c" fill-opacity="1"/><ellipse cx="209.8" cy="356.9" rx="19.1" ry="1.60" transform="rotate(-22.7 209.8 356.9)" fill="#ff8c0c" fill-opacity="1"/><ellipse cx="248.3" cy="330.1" rx="10.6" ry="1.60" transform="rotate(-16.6 248.3 330.1)" fill="#ff8c0c" fill-opacity="1"/><ellipse cx="282.2" cy="311.4" rx="9.8" ry="1.60" transform="rotate(5.8 282.2 311.4)" fill="#ff8c0c" fill-opacity="1"/><ellipse cx="298.9" cy="320.2" rx="9.8" ry="1.60" transform="rotate(-3.1 298.9 320.2)" fill="#ff8c0c" fill-opacity="1"/><ellipse cx="271.0" cy="329.0" rx="10.5" ry="1.60" transform="rotate(111.7 271.0 329.0)" fill="#ff8c0c" fill-opacity="1"/></g><g filter="url(#b5)"><ellipse cx="188.4" cy="276.8" rx="7.0" ry="1.30" transform="rotate(26.7 188.4 276.8)" fill="#e01c04" fill-opacity="1"/><ellipse cx="191.2" cy="301.1" rx="10.3" ry="1.30" transform="rotate(-36.5 191.2 301.1)" fill="#e01c04" fill-opacity="1"/><ellipse cx="291.4" cy="265.6" rx="13.4" ry="1.30" transform="rotate(3.2 291.4 265.6)" fill="#e01c04" fill-opacity="1"/><ellipse cx="296.1" cy="291.7" rx="9.9" ry="1.30" transform="rotate(-32.5 296.1 291.7)" fill="#e01c04" fill-opacity="1"/><ellipse cx="209.8" cy="356.9" rx="15.1" ry="1.30" transform="rotate(-22.7 209.8 356.9)" fill="#e01c04" fill-opacity="1"/><ellipse cx="248.3" cy="330.1" rx="8.4" ry="1.30" transform="rotate(-16.6 248.3 330.1)" fill="#e01c04" fill-opacity="1"/><ellipse cx="298.9" cy="320.2" rx="7.8" ry="1.30" transform="rotate(-3.1 298.9 320.2)" fill="#e01c04" fill-opacity="1"/></g><g filter="url(#b5)"><circle cx="240.5" cy="258.2" r="2" fill="#0830e8"/><circle cx="204.2" cy="292.6" r="2.2" fill="#0848f0"/><circle cx="279.4" cy="332.7" r="2.2" fill="#0848f0"/><circle cx="253.4" cy="358.4" r="1.8" fill="#0838e0"/><circle cx="201.4" cy="261" r="1.6" fill="#40d8f0"/><circle cx="292.4" cy="262" r="2" fill="#30e0e8"/><circle cx="298" cy="299.1" r="2" fill="#30e0e8"/><circle cx="195" cy="329" r="1.6" fill="#40e0e0"/><circle cx="208" cy="337.4" r="2.2" fill="#30e0e0"/><circle cx="214" cy="332.7" r="1.7" fill="#30e0e0"/><circle cx="282.2" cy="340.2" r="2" fill="#40e0d8"/><circle cx="258" cy="334.6" r="1.6" fill="#50e0d0"/><circle cx="277.5" cy="357.8" r="1.6" fill="#50e0d0"/></g><rect x="185" y="364.8" width="40.3" height="3" fill="#000"/></svg>
<div class="t" style="left:187px;top:351.5px;font-size:12.5px;font-weight:bold;color:#000;">20 µm</div>
<div class="t" style="left:186.3px;top:240px;font-size:17px;color:#111;font-family:'Liberation Serif',serif;">v.</div>
<div class="a" style="left:320px;top:236px;width:12px;height:137px;background:linear-gradient(to top,#00008f 0%,#0000ff 12.5%,#00ffff 37.5%,#ffff00 62.5%,#ff0000 87.5%,#800000 100%);"></div>
<div class="t" style="left:332.5px;top:246.25px;font-size:11.5px;color:#444;font-family:'Liberation Serif',serif;">100</div>
<div class="t" style="left:332.5px;top:268.75px;font-size:11.5px;color:#444;font-family:'Liberation Serif',serif;">50</div>
<div class="t" style="left:332.5px;top:288.75px;font-size:11.5px;color:#444;font-family:'Liberation Serif',serif;">0</div>
<div class="t" style="left:332.5px;top:310.25px;font-size:11.5px;color:#444;font-family:'Liberation Serif',serif;">-50</div>
<div class="t" style="left:332.5px;top:330.25px;font-size:11.5px;color:#444;font-family:'Liberation Serif',serif;">-100</div>
<div class="t" style="left:332.5px;top:351.75px;font-size:11.5px;color:#444;font-family:'Liberation Serif',serif;">-150</div>
<div class="a" style="left:363px;top:24px;width:401.5px;height:352px;background:#000;"></div>
<svg class="a" style="left:366px;top:26px" width="196.3" height="116.2" viewBox="366 26 196.3 116.2"><rect x="366" y="26" width="196.3" height="116.2" fill="#fff"/><line x1="366" y1="50" x2="368.5" y2="50" stroke="#777" stroke-width="0.7"/><line x1="559.5" y1="50" x2="562" y2="50" stroke="#777" stroke-width="0.7"/><line x1="366" y1="73.4" x2="368.5" y2="73.4" stroke="#777" stroke-width="0.7"/><line x1="559.5" y1="73.4" x2="562" y2="73.4" stroke="#777" stroke-width="0.7"/><line x1="366" y1="95" x2="368.5" y2="95" stroke="#777" stroke-width="0.7"/><line x1="559.5" y1="95" x2="562" y2="95" stroke="#777" stroke-width="0.7"/><line x1="366" y1="118" x2="368.5" y2="118" stroke="#777" stroke-width="0.7"/><line x1="559.5" y1="118" x2="562" y2="118" stroke="#777" stroke-width="0.7"/><line x1="366" y1="30" x2="367.2" y2="30" stroke="#aaa" stroke-width="0.5"/><line x1="560.8" y1="30" x2="562" y2="30" stroke="#aaa" stroke-width="0.5"/><line x1="366" y1="34" x2="367.2" y2="34" stroke="#aaa" stroke-width="0.5"/><line x1="560.8" y1="34" x2="562" y2="34" stroke="#aaa" stroke-width="0.5"/><line x1="366" y1="38" x2="367.2" y2="38" stroke="#aaa" stroke-width="0.5"/><line x1="560.8" y1="38" x2="562" y2="38" stroke="#aaa" stroke-width="0.5"/><line x1="366" y1="42" x2="367.2" y2="42" stroke="#aaa" stroke-width="0.5"/><line x1="560.8" y1="42" x2="562" y2="42" stroke="#aaa" stroke-width="0.5"/><line x1="366" y1="46" x2="367.2" y2="46" stroke="#aaa" stroke-width="0.5"/><line x1="560.8" y1="46" x2="562" y2="46" stroke="#aaa" stroke-width="0.5"/><line x1="366" y1="50" x2="367.2" y2="50" stroke="#aaa" stroke-width="0.5"/><line x1="560.8" y1="50" x2="562" y2="50" stroke="#aaa" stroke-width="0.5"/><line x1="366" y1="54" x2="367.2" y2="54" stroke="#aaa" stroke-width="0.5"/><line x1="560.8" y1="54" x2="562" y2="54" stroke="#aaa" stroke-width="0.5"/><line x1="366" y1="58" x2="367.2" y2="58" stroke="#aaa" stroke-width="0.5"/><line x1="560.8" y1="58" x2="562" y2="58" stroke="#aaa" stroke-width="0.5"/><line x1="366" y1="62" x2="367.2" y2="62" stroke="#aaa" stroke-width="0.5"/><line x1="560.8" y1="62" x2="562" y2="62" stroke="#aaa" stroke-width="0.5"/><line x1="366" y1="66" x2="367.2" y2="66" stroke="#aaa" stroke-width="0.5"/><line x1="560.8" y1="66" x2="562" y2="66" stroke="#aaa" stroke-width="0.5"/><line x1="366" y1="70" x2="367.2" y2="70" stroke="#aaa" stroke-width="0.5"/><line x1="560.8" y1="70" x2="562" y2="70" stroke="#aaa" stroke-width="0.5"/><line x1="366" y1="74" x2="367.2" y2="74" stroke="#aaa" stroke-width="0.5"/><line x1="560.8" y1="74" x2="562" y2="74" stroke="#aaa" stroke-width="0.5"/><line x1="366" y1="78" x2="367.2" y2="78" stroke="#aaa" stroke-width="0.5"/><line x1="560.8" y1="78" x2="562" y2="78" stroke="#aaa" stroke-width="0.5"/><line x1="366" y1="82" x2="367.2" y2="82" stroke="#aaa" stroke-width="0.5"/><line x1="560.8" y1="82" x2="562" y2="82" stroke="#aaa" stroke-width="0.5"/><line x1="366" y1="86" x2="367.2" y2="86" stroke="#aaa" stroke-width="0.5"/><line x1="560.8" y1="86" x2="562" y2="86" stroke="#aaa" stroke-width="0.5"/><line x1="366" y1="90" x2="367.2" y2="90" stroke="#aaa" stroke-width="0.5"/><line x1="560.8" y1="90" x2="562" y2="90" stroke="#aaa" stroke-width="0.5"/><line x1="366" y1="94" x2="367.2" y2="94" stroke="#aaa" stroke-width="0.5"/><line x1="560.8" y1="94" x2="562" y2="94" stroke="#aaa" stroke-width="0.5"/><line x1="366" y1="98" x2="367.2" y2="98" stroke="#aaa" stroke-width="0.5"/><line x1="560.8" y1="98" x2="562" y2="98" stroke="#aaa" stroke-width="0.5"/><line x1="366" y1="102" x2="367.2" y2="102" stroke="#aaa" stroke-width="0.5"/><line x1="560.8" y1="102" x2="562" y2="102" stroke="#aaa" stroke-width="0.5"/><line x1="366" y1="106" x2="367.2" y2="106" stroke="#aaa" stroke-width="0.5"/><line x1="560.8" y1="106" x2="562" y2="106" stroke="#aaa" stroke-width="0.5"/><line x1="366" y1="110" x2="367.2" y2="110" stroke="#aaa" stroke-width="0.5"/><line x1="560.8" y1="110" x2="562" y2="110" stroke="#aaa" stroke-width="0.5"/><line x1="366" y1="114" x2="367.2" y2="114" stroke="#aaa" stroke-width="0.5"/><line x1="560.8" y1="114" x2="562" y2="114" stroke="#aaa" stroke-width="0.5"/><line x1="366" y1="118" x2="367.2" y2="118" stroke="#aaa" stroke-width="0.5"/><line x1="560.8" y1="118" x2="562" y2="118" stroke="#aaa" stroke-width="0.5"/><line x1="366" y1="122" x2="367.2" y2="122" stroke="#aaa" stroke-width="0.5"/><line x1="560.8" y1="122" x2="562" y2="122" stroke="#aaa" stroke-width="0.5"/><line x1="366" y1="126" x2="367.2" y2="126" stroke="#aaa" stroke-width="0.5"/><line x1="560.8" y1="126" x2="562" y2="126" stroke="#aaa" stroke-width="0.5"/><line x1="366" y1="130" x2="367.2" y2="130" stroke="#aaa" stroke-width="0.5"/><line x1="560.8" y1="130" x2="562" y2="130" stroke="#aaa" stroke-width="0.5"/><line x1="366" y1="134" x2="367.2" y2="134" stroke="#aaa" stroke-width="0.5"/><line x1="560.8" y1="134" x2="562" y2="134" stroke="#aaa" stroke-width="0.5"/><line x1="366" y1="138" x2="367.2" y2="138" stroke="#aaa" stroke-width="0.5"/><line x1="560.8" y1="138" x2="562" y2="138" stroke="#aaa" stroke-width="0.5"/><line x1="561.3" y1="26" x2="561.3" y2="142" stroke="#555" stroke-width="0.7"/><line x1="378.5" y1="128" x2="378.5" y2="140.5" stroke="#3c3c9e" stroke-width="1.35"/><line x1="425" y1="133" x2="425" y2="140.5" stroke="#3c3c9e" stroke-width="1.35"/><line x1="431.6" y1="75" x2="431.6" y2="140.5" stroke="#3c3c9e" stroke-width="1.35"/><line x1="435" y1="132" x2="435" y2="140.5" stroke="#3c3c9e" stroke-width="1.35"/><line x1="455" y1="136" x2="455" y2="140.5" stroke="#3c3c9e" stroke-width="1.35"/><line x1="458" y1="135.5" x2="458" y2="140.5" stroke="#3c3c9e" stroke-width="1.35"/><line x1="464" y1="105.5" x2="464" y2="140.5" stroke="#3c3c9e" stroke-width="1.35"/><line x1="467.6" y1="134.5" x2="467.6" y2="140.5" stroke="#3c3c9e" stroke-width="1.35"/><line x1="471" y1="82.3" x2="471" y2="140.5" stroke="#3c3c9e" stroke-width="1.35"/><line x1="474.2" y1="132" x2="474.2" y2="140.5" stroke="#3c3c9e" stroke-width="1.35"/><line x1="517" y1="80" x2="517" y2="140.5" stroke="#3c3c9e" stroke-width="1.35"/><line x1="520.3" y1="128.8" x2="520.3" y2="140.5" stroke="#3c3c9e" stroke-width="1.35"/><line x1="523.2" y1="26" x2="523.2" y2="140.5" stroke="#3c3c9e" stroke-width="1.35"/><line x1="525.2" y1="113" x2="525.2" y2="140.5" stroke="#3c3c9e" stroke-width="1.35"/><line x1="527.3" y1="117.5" x2="527.3" y2="140.5" stroke="#3c3c9e" stroke-width="1.35"/><line x1="556.8" y1="131" x2="556.8" y2="140.5" stroke="#3c3c9e" stroke-width="1.35"/><line x1="372" y1="137" x2="372" y2="140.5" stroke="#3c3c9e" stroke-width="1.35"/><line x1="404" y1="138" x2="404" y2="140.5" stroke="#3c3c9e" stroke-width="1.35"/><line x1="445" y1="138" x2="445" y2="140.5" stroke="#3c3c9e" stroke-width="1.35"/><line x1="503" y1="137" x2="503" y2="140.5" stroke="#3c3c9e" stroke-width="1.35"/><line x1="510" y1="138" x2="510" y2="140.5" stroke="#3c3c9e" stroke-width="1.35"/><line x1="541" y1="137" x2="541" y2="140.5" stroke="#3c3c9e" stroke-width="1.35"/><line x1="547" y1="138" x2="547" y2="140.5" stroke="#3c3c9e" stroke-width="1.35"/><line x1="390" y1="138.5" x2="390" y2="140.5" stroke="#3c3c9e" stroke-width="1.35"/><line x1="484" y1="138" x2="484" y2="140.5" stroke="#3c3c9e" stroke-width="1.35"/><line x1="366.00" y1="139.80" x2="366.00" y2="140.6" stroke="#44449e" stroke-width="0.8"/><line x1="367.31" y1="138.80" x2="367.31" y2="140.6" stroke="#44449e" stroke-width="0.8"/><line x1="368.62" y1="138.80" x2="368.62" y2="140.6" stroke="#44449e" stroke-width="0.8"/><line x1="369.93" y1="139.80" x2="369.93" y2="140.6" stroke="#44449e" stroke-width="0.8"/><line x1="371.24" y1="139.60" x2="371.24" y2="140.6" stroke="#44449e" stroke-width="0.8"/><line x1="372.55" y1="138.80" x2="372.55" y2="140.6" stroke="#44449e" stroke-width="0.8"/><line x1="373.86" y1="139.30" x2="373.86" y2="140.6" stroke="#44449e" stroke-width="0.8"/><line x1="375.17" y1="138.10" x2="375.17" y2="140.6" stroke="#44449e" stroke-width="0.8"/><line x1="376.48" y1="138.80" x2="376.48" y2="140.6" stroke="#44449e" stroke-width="0.8"/><line x1="377.79" y1="140.00" x2="377.79" y2="140.6" stroke="#44449e" stroke-width="0.8"/><line x1="379.10" y1="138.80" x2="379.10" y2="140.6" stroke="#44449e" stroke-width="0.8"/><line x1="380.41" y1="140.00" x2="380.41" y2="140.6" stroke="#44449e" stroke-width="0.8"/><line x1="381.72" y1="139.30" x2="381.72" y2="140.6" stroke="#44449e" stroke-width="0.8"/><line x1="383.03" y1="139.60" x2="383.03" y2="140.6" stroke="#44449e" stroke-width="0.8"/><line x1="384.34" y1="138.80" x2="384.34" y2="140.6" stroke="#44449e" stroke-width="0.8"/><line x1="385.65" y1="139.80" x2="385.65" y2="140.6" stroke="#44449e" stroke-width="0.8"/><line x1="386.96" y1="139.80" x2="386.96" y2="140.6" stroke="#44449e" stroke-width="0.8"/><line x1="388.27" y1="138.10" x2="388.27" y2="140.6" stroke="#44449e" stroke-width="0.8"/><line x1="389.58" y1="139.30" x2="389.58" y2="140.6" stroke="#44449e" stroke-width="0.8"/><line x1="390.89" y1="138.80" x2="390.89" y2="140.6" stroke="#44449e" stroke-width="0.8"/><line x1="392.20" y1="138.80" x2="392.20" y2="140.6" stroke="#44449e" stroke-width="0.8"/><line x1="393.51" y1="139.30" x2="393.51" y2="140.6" stroke="#44449e" stroke-width="0.8"/><line x1="394.82" y1="139.30" x2="394.82" y2="140.6" stroke="#44449e" stroke-width="0.8"/><line x1="396.13" y1="138.10" x2="396.13" y2="140.6" stroke="#44449e" stroke-width="0.8"/><line x1="397.44" y1="139.80" x2="397.44" y2="140.6" stroke="#44449e" stroke-width="0.8"/><line x1="398.75" y1="139.80" x2="398.75" y2="140.6" stroke="#44449e" stroke-width="0.8"/><line x1="400.06" y1="138.10" x2="400.06" y2="140.6" stroke="#44449e" stroke-width="0.8"/><line x1="401.37" y1="139.80" x2="401.37" y2="140.6" stroke="#44449e" stroke-width="0.8"/><line x1="402.68" y1="138.80" x2="402.68" y2="140.6" stroke="#44449e" stroke-width="0.8"/><line x1="403.99" y1="139.30" x2="403.99" y2="140.6" stroke="#44449e" stroke-width="0.8"/><line x1="405.30" y1="138.10" x2="405.30" y2="140.6" stroke="#44449e" stroke-width="0.8"/><line x1="406.61" y1="140.00" x2="406.61" y2="140.6" stroke="#44449e" stroke-width="0.8"/><line x1="407.92" y1="138.10" x2="407.92" y2="140.6" stroke="#44449e" stroke-width="0.8"/><line x1="409.23" y1="140.00" x2="409.23" y2="140.6" stroke="#44449e" stroke-width="0.8"/><line x1="410.54" y1="139.80" x2="410.54" y2="140.6" stroke="#44449e" stroke-width="0.8"/><line x1="411.85" y1="138.80" x2="411.85" y2="140.6" stroke="#44449e" stroke-width="0.8"/><line x1="413.16" y1="140.00" x2="413.16" y2="140.6" stroke="#44449e" stroke-width="0.8"/><line x1="414.47" y1="139.60" x2="414.47" y2="140.6" stroke="#44449e" stroke-width="0.8"/><line x1="415.78" y1="140.00" x2="415.78" y2="140.6" stroke="#44449e" stroke-width="0.8"/><line x1="417.09" y1="139.60" x2="417.09" y2="140.6" stroke="#44449e" stroke-width="0.8"/><line x1="418.40" y1="139.30" x2="418.40" y2="140.6" stroke="#44449e" stroke-width="0.8"/><line x1="419.71" y1="138.80" x2="419.71" y2="140.6" stroke="#44449e" stroke-width="0.8"/><line x1="421.02" y1="138.10" x2="421.02" y2="140.6" stroke="#44449e" stroke-width="0.8"/><line x1="422.33" y1="139.30" x2="422.33" y2="140.6" stroke="#44449e" stroke-width="0.8"/><line x1="423.64" y1="138.10" x2="423.64" y2="140.6" stroke="#44449e" stroke-width="0.8"/><line x1="424.95" y1="139.30" x2="424.95" y2="140.6" stroke="#44449e" stroke-width="0.8"/><line x1="426.26" y1="139.30" x2="426.26" y2="140.6" stroke="#44449e" stroke-width="0.8"/><line x1="427.57" y1="138.10" x2="427.57" y2="140.6" stroke="#44449e" stroke-width="0.8"/><line x1="428.88" y1="138.80" x2="428.88" y2="140.6" stroke="#44449e" stroke-width="0.8"/><line x1="430.19" y1="139.30" x2="430.19" y2="140.6" stroke="#44449e" stroke-width="0.8"/><line x1="431.50" y1="139.80" x2="431.50" y2="140.6" stroke="#44449e" stroke-width="0.8"/><line x1="432.81" y1="139.60" x2="432.81" y2="140.6" stroke="#44449e" stroke-width="0.8"/><line x1="434.12" y1="140.00" x2="434.12" y2="140.6" stroke="#44449e" stroke-width="0.8"/><line x1="435.43" y1="140.00" x2="435.43" y2="140.6" stroke="#44449e" stroke-width="0.8"/><line x1="436.74" y1="139.80" x2="436.74" y2="140.6" stroke="#44449e" stroke-width="0.8"/><line x1="438.05" y1="139.30" x2="438.05" y2="140.6" stroke="#44449e" stroke-width="0.8"/><line x1="439.36" y1="139.80" x2="439.36" y2="140.6" stroke="#44449e" stroke-width="0.8"/><line x1="440.67" y1="139.60" x2="440.67" y2="140.6" stroke="#44449e" stroke-width="0.8"/><line x1="441.98" y1="138.10" x2="441.98" y2="140.6" stroke="#44449e" stroke-width="0.8"/><line x1="443.29" y1="139.30" x2="443.29" y2="140.6" stroke="#44449e" stroke-width="0.8"/><line x1="444.60" y1="138.10" x2="444.60" y2="140.6" stroke="#44449e" stroke-width="0.8"/><line x1="445.91" y1="139.60" x2="445.91" y2="140.6" stroke="#44449e" stroke-width="0.8"/><line x1="447.22" y1="139.30" x2="447.22" y2="140.6" stroke="#44449e" stroke-width="0.8"/><line x1="448.53" y1="138.80" x2="448.53" y2="140.6" stroke="#44449e" stroke-width="0.8"/><line x1="449.84" y1="139.30" x2="449.84" y2="140.6" stroke="#44449e" stroke-width="0.8"/><line x1="451.15" y1="138.80" x2="451.15" y2="140.6" stroke="#44449e" stroke-width="0.8"/><line x1="452.46" y1="139.60" x2="452.46" y2="140.6" stroke="#44449e" stroke-width="0.8"/><line x1="453.77" y1="138.80" x2="453.77" y2="140.6" stroke="#44449e" stroke-width="0.8"/><line x1="455.08" y1="138.80" x2="455.08" y2="140.6" stroke="#44449e" stroke-width="0.8"/><line x1="456.39" y1="139.30" x2="456.39" y2="140.6" stroke="#44449e" stroke-width="0.8"/><line x1="457.70" y1="138.80" x2="457.70" y2="140.6" stroke="#44449e" stroke-width="0.8"/><line x1="459.01" y1="139.80" x2="459.01" y2="140.6" stroke="#44449e" stroke-width="0.8"/><line x1="460.32" y1="139.60" x2="460.32" y2="140.6" stroke="#44449e" stroke-width="0.8"/><line x1="461.63" y1="138.10" x2="461.63" y2="140.6" stroke="#44449e" stroke-width="0.8"/><line x1="462.94" y1="140.00" x2="462.94" y2="140.6" stroke="#44449e" stroke-width="0.8"/><line x1="464.25" y1="139.60" x2="464.25" y2="140.6" stroke="#44449e" stroke-width="0.8"/><line x1="465.56" y1="138.80" x2="465.56" y2="140.6" stroke="#44449e" stroke-width="0.8"/><line x1="466.87" y1="138.10" x2="466.87" y2="140.6" stroke="#44449e" stroke-width="0.8"/><line x1="468.18" y1="138.10" x2="468.18" y2="140.6" stroke="#44449e" stroke-width="0.8"/><line x1="469.49" y1="139.80" x2="469.49" y2="140.6" stroke="#44449e" stroke-width="0.8"/><line x1="470.80" y1="138.10" x2="470.80" y2="140.6" stroke="#44449e" stroke-width="0.8"/><line x1="472.11" y1="139.60" x2="472.11" y2="140.6" stroke="#44449e" stroke-width="0.8"/><line x1="473.42" y1="138.80" x2="473.42" y2="140.6" stroke="#44449e" stroke-width="0.8"/><line x1="474.73" y1="138.80" x2="474.73" y2="140.6" stroke="#44449e" stroke-width="0.8"/><line x1="476.04" y1="138.80" x2="476.04" y2="140.6" stroke="#44449e" stroke-width="0.8"/><line x1="477.35" y1="140.00" x2="477.35" y2="140.6" stroke="#44449e" stroke-width="0.8"/><line x1="478.66" y1="138.10" x2="478.66" y2="140.6" stroke="#44449e" stroke-width="0.8"/><line x1="479.97" y1="138.10" x2="479.97" y2="140.6" stroke="#44449e" stroke-width="0.8"/><line x1="481.28" y1="139.80" x2="481.28" y2="140.6" stroke="#44449e" stroke-width="0.8"/><line x1="482.59" y1="138.10" x2="482.59" y2="140.6" stroke="#44449e" stroke-width="0.8"/><line x1="483.90" y1="138.80" x2="483.90" y2="140.6" stroke="#44449e" stroke-width="0.8"/><line x1="485.21" y1="139.60" x2="485.21" y2="140.6" stroke="#44449e" stroke-width="0.8"/><line x1="486.52" y1="139.60" x2="486.52" y2="140.6" stroke="#44449e" stroke-width="0.8"/><line x1="487.83" y1="140.00" x2="487.83" y2="140.6" stroke="#44449e" stroke-width="0.8"/><line x1="489.14" y1="140.00" x2="489.14" y2="140.6" stroke="#44449e" stroke-width="0.8"/><line x1="490.45" y1="139.30" x2="490.45" y2="140.6" stroke="#44449e" stroke-width="0.8"/><line x1="491.76" y1="138.10" x2="491.76" y2="140.6" stroke="#44449e" stroke-width="0.8"/><line x1="493.07" y1="139.30" x2="493.07" y2="140.6" stroke="#44449e" stroke-width="0.8"/><line x1="494.38" y1="140.00" x2="494.38" y2="140.6" stroke="#44449e" stroke-width="0.8"/><line x1="495.69" y1="139.60" x2="495.69" y2="140.6" stroke="#44449e" stroke-width="0.8"/><line x1="497.00" y1="140.00" x2="497.00" y2="140.6" stroke="#44449e" stroke-width="0.8"/><line x1="498.31" y1="139.30" x2="498.31" y2="140.6" stroke="#44449e" stroke-width="0.8"/><line x1="499.62" y1="139.80" x2="499.62" y2="140.6" stroke="#44449e" stroke-width="0.8"/><line x1="500.93" y1="140.00" x2="500.93" y2="140.6" stroke="#44449e" stroke-width="0.8"/><line x1="502.24" y1="139.60" x2="502.24" y2="140.6" stroke="#44449e" stroke-width="0.8"/><line x1="503.55" y1="139.30" x2="503.55" y2="140.6" stroke="#44449e" stroke-width="0.8"/><line x1="504.86" y1="139.30" x2="504.86" y2="140.6" stroke="#44449e" stroke-width="0.8"/><line x1="506.17" y1="140.00" x2="506.17" y2="140.6" stroke="#44449e" stroke-width="0.8"/><line x1="507.48" y1="140.00" x2="507.48" y2="140.6" stroke="#44449e" stroke-width="0.8"/><line x1="508.79" y1="138.80" x2="508.79" y2="140.6" stroke="#44449e" stroke-width="0.8"/><line x1="510.10" y1="138.80" x2="510.10" y2="140.6" stroke="#44449e" stroke-width="0.8"/><line x1="511.41" y1="140.00" x2="511.41" y2="140.6" stroke="#44449e" stroke-width="0.8"/><line x1="512.72" y1="139.30" x2="512.72" y2="140.6" stroke="#44449e" stroke-width="0.8"/><line x1="514.03" y1="138.10" x2="514.03" y2="140.6" stroke="#44449e" stroke-width="0.8"/><line x1="515.34" y1="138.80" x2="515.34" y2="140.6" stroke="#44449e" stroke-width="0.8"/><line x1="516.65" y1="139.60" x2="516.65" y2="140.6" stroke="#44449e" stroke-width="0.8"/><line x1="517.96" y1="138.80" x2="517.96" y2="140.6" stroke="#44449e" stroke-width="0.8"/><line x1="519.27" y1="139.60" x2="519.27" y2="140.6" stroke="#44449e" stroke-width="0.8"/><line x1="520.58" y1="138.80" x2="520.58" y2="140.6" stroke="#44449e" stroke-width="0.8"/><line x1="521.89" y1="139.80" x2="521.89" y2="140.6" stroke="#44449e" stroke-width="0.8"/><line x1="523.20" y1="140.00" x2="523.20" y2="140.6" stroke="#44449e" stroke-width="0.8"/><line x1="524.51" y1="139.60" x2="524.51" y2="140.6" stroke="#44449e" stroke-width="0.8"/><line x1="525.82" y1="140.00" x2="525.82" y2="140.6" stroke="#44449e" stroke-width="0.8"/><line x1="527.13" y1="140.00" x2="527.13" y2="140.6" stroke="#44449e" stroke-width="0.8"/><line x1="528.44" y1="140.00" x2="528.44" y2="140.6" stroke="#44449e" stroke-width="0.8"/><line x1="529.75" y1="138.80" x2="529.75" y2="140.6" stroke="#44449e" stroke-width="0.8"/><line x1="531.06" y1="138.80" x2="531.06" y2="140.6" stroke="#44449e" stroke-width="0.8"/><line x1="532.37" y1="140.00" x2="532.37" y2="140.6" stroke="#44449e" stroke-width="0.8"/><line x1="533.68" y1="139.80" x2="533.68" y2="140.6" stroke="#44449e" stroke-width="0.8"/><line x1="534.99" y1="139.30" x2="534.99" y2="140.6" stroke="#44449e" stroke-width="0.8"/><line x1="536.30" y1="139.60" x2="536.30" y2="140.6" stroke="#44449e" stroke-width="0.8"/><line x1="537.61" y1="138.80" x2="537.61" y2="140.6" stroke="#44449e" stroke-width="0.8"/><line x1="538.92" y1="139.60" x2="538.92" y2="140.6" stroke="#44449e" stroke-width="0.8"/><line x1="540.23" y1="139.80" x2="540.23" y2="140.6" stroke="#44449e" stroke-width="0.8"/><line x1="541.54" y1="138.10" x2="541.54" y2="140.6" stroke="#44449e" stroke-width="0.8"/><line x1="542.85" y1="140.00" x2="542.85" y2="140.6" stroke="#44449e" stroke-width="0.8"/><line x1="544.16" y1="139.60" x2="544.16" y2="140.6" stroke="#44449e" stroke-width="0.8"/><line x1="545.47" y1="139.60" x2="545.47" y2="140.6" stroke="#44449e" stroke-width="0.8"/><line x1="546.78" y1="139.60" x2="546.78" y2="140.6" stroke="#44449e" stroke-width="0.8"/><line x1="548.09" y1="139.80" x2="548.09" y2="140.6" stroke="#44449e" stroke-width="0.8"/><line x1="549.40" y1="139.30" x2="549.40" y2="140.6" stroke="#44449e" stroke-width="0.8"/><line x1="550.71" y1="139.30" x2="550.71" y2="140.6" stroke="#44449e" stroke-width="0.8"/><line x1="552.02" y1="139.30" x2="552.02" y2="140.6" stroke="#44449e" stroke-width="0.8"/><line x1="553.33" y1="138.80" x2="553.33" y2="140.6" stroke="#44449e" stroke-width="0.8"/><line x1="554.64" y1="139.30" x2="554.64" y2="140.6" stroke="#44449e" stroke-width="0.8"/><line x1="555.95" y1="138.10" x2="555.95" y2="140.6" stroke="#44449e" stroke-width="0.8"/><line x1="557.26" y1="138.80" x2="557.26" y2="140.6" stroke="#44449e" stroke-width="0.8"/><line x1="558.57" y1="138.10" x2="558.57" y2="140.6" stroke="#44449e" stroke-width="0.8"/><line x1="559.88" y1="138.80" x2="559.88" y2="140.6" stroke="#44449e" stroke-width="0.8"/><line x1="561.19" y1="140.00" x2="561.19" y2="140.6" stroke="#44449e" stroke-width="0.8"/><rect x="366" y="140.2" width="196.3" height="2" fill="#22225a"/></svg>
<div class="t" style="left:370px;top:31px;font-size:11.7px;font-weight:bold;color:#111;">50 cts.</div>
<div class="t" style="left:483.6px;top:33px;font-size:12.5px;color:#222;">288.21</div>
<div class="t" style="left:404.2px;top:61px;font-size:12.5px;color:#222;">260.18</div>
<div class="t" style="left:445.4px;top:71.2px;font-size:12.5px;color:#222;">272.21</div>
<div class="t" style="left:487px;top:67.8px;font-size:12.5px;color:#222;">286.21</div>
<div class="t" style="left:373.4px;top:114.2px;font-size:12.5px;color:#222;">244.18</div>
<div class="t" style="left:374px;top:97.5px;font-size:12.5px;color:#222;font-style:italic;">m/z</div>
<svg class="a" style="left:564.3px;top:26px" width="198.6" height="116.2" viewBox="564.3 26 198.6 116.2"><defs><filter color-interpolation-filters="sRGB" id="tcn0" x="0" y="0" width="100%" height="100%"><feTurbulence type="fractalNoise" baseFrequency="0.1 0.14" numOctaves="2" seed="11"/><feColorMatrix type="matrix" values="0 0 0 0 0.34  0 0 0 0 0.04  0 0 0 0 0.7  2.4 0 0 0 -1.2"/><feGaussianBlur stdDeviation="0.8"/></filter><filter color-interpolation-filters="sRGB" id="tcn1" x="0" y="0" width="100%" height="100%"><feTurbulence type="fractalNoise" baseFrequency="0.12 0.16" numOctaves="2" seed="5"/><feColorMatrix type="matrix" values="0 0 0 0 0.12  0 0 0 0 0.38  0 0 0 0 1.0  0 2.4 0 0 -1.35"/><feGaussianBlur stdDeviation="0.8"/></filter><filter color-interpolation-filters="sRGB" id="tcn2" x="0" y="0" width="100%" height="100%"><feTurbulence type="fractalNoise" baseFrequency="0.14 0.18" numOctaves="2" seed="17"/><feColorMatrix type="matrix" values="0 0 0 0 0.04  0 0 0 0 0.06  0 0 0 0 0.75  0 0 2.2 0 -1.4"/><feGaussianBlur stdDeviation="0.6"/></filter><filter color-interpolation-filters="sRGB" id="tcm0" x="0" y="0" width="100%" height="100%"><feTurbulence type="fractalNoise" baseFrequency="0.14 0.2" numOctaves="2" seed="9"/><feColorMatrix type="matrix" values="0 0 0 0 0.1  0 0 0 0 0.78  0 0 0 0 0.95  2.4 0 0 0 -0.7"/><feGaussianBlur stdDeviation="0.6"/></filter><filter color-interpolation-filters="sRGB" id="tcm1" x="0" y="0" width="100%" height="100%"><feTurbulence type="fractalNoise" baseFrequency="0.12 0.18" numOctaves="2" seed="23"/><feColorMatrix type="matrix" values="0 0 0 0 0.3  0 0 0 0 0.92  0 0 0 0 0.3  0 2.6 0 0 -1.15"/><feGaussianBlur stdDeviation="0.6"/></filter><filter color-interpolation-filters="sRGB" id="tcm2" x="0" y="0" width="100%" height="100%"><feTurbulence type="fractalNoise" baseFrequency="0.14 0.2" numOctaves="2" seed="29"/><feColorMatrix type="matrix" values="0 0 0 0 0.1  0 0 0 0 0.3  0 0 0 0 1.0  0 0 2.2 0 -1.05"/><feGaussianBlur stdDeviation="0.6"/></filter><filter color-interpolation-filters="sRGB" id="tcb" x="-80%" y="-80%" width="260%" height="260%"><feGaussianBlur stdDeviation="1.2"/></filter><linearGradient id="tcg" x1="0" y1="0" x2="0" y2="1"><stop offset="0" stop-color="#fff" stop-opacity="0"/><stop offset="0.35" stop-color="#fff" stop-opacity="1"/><stop offset="1" stop-color="#fff" stop-opacity="1"/></linearGradient><mask id="tck" maskUnits="userSpaceOnUse" x="564.3" y="26" width="198.6" height="116.2"><rect x="564.3" y="126" width="198.6" height="16.19999999999999" fill="url(#tcg)"/></mask></defs><rect x="564.3" y="26" width="198.6" height="116.2" fill="#0e16f2"/><rect x="564.3" y="26" width="198.6" height="116.2" filter="url(#tcn0)"/><rect x="564.3" y="26" width="198.6" height="116.2" filter="url(#tcn1)"/><rect x="564.3" y="26" width="198.6" height="116.2" filter="url(#tcn2)"/><g mask="url(#tck)"><rect x="564.3" y="26" width="198.6" height="116.2" filter="url(#tcm0)"/><rect x="564.3" y="26" width="198.6" height="116.2" filter="url(#tcm1)"/><rect x="564.3" y="26" width="198.6" height="116.2" filter="url(#tcm2)"/></g><ellipse cx="631" cy="34.5" rx="6.1" ry="5.2" fill="#10c0d0" filter="url(#tcb)" opacity="0.8"/><ellipse cx="631" cy="34.5" rx="4.4" ry="3.7" fill="#e8e800" filter="url(#tcb)" opacity="0.9"/><ellipse cx="631" cy="34.5" rx="2.6" ry="2.2" fill="#ff1000" filter="url(#tcb)"/><ellipse cx="735" cy="113.75" rx="8.0" ry="5" fill="#10c0d0" filter="url(#tcb)" opacity="0.8"/><ellipse cx="735" cy="113.75" rx="6.3" ry="3.5" fill="#e8e800" filter="url(#tcb)" opacity="0.9"/><ellipse cx="735" cy="113.75" rx="4.5" ry="2" fill="#ff1000" filter="url(#tcb)"/><ellipse cx="617.5" cy="120" rx="6.3" ry="5.5" fill="#10c0d0" filter="url(#tcb)" opacity="0.8"/><ellipse cx="617.5" cy="120" rx="4.6" ry="4.0" fill="#e8e800" filter="url(#tcb)" opacity="0.9"/><ellipse cx="617.5" cy="120" rx="2.8" ry="2.5" fill="#ff1000" filter="url(#tcb)"/><ellipse cx="577.5" cy="123.75" rx="6.3" ry="5" fill="#10c0d0" filter="url(#tcb)" opacity="0.8"/><ellipse cx="577.5" cy="123.75" rx="4.6" ry="3.5" fill="#e8e800" filter="url(#tcb)" opacity="0.9"/><ellipse cx="577.5" cy="123.75" rx="2.8" ry="2" fill="#ff1000" filter="url(#tcb)"/><ellipse cx="651" cy="132.5" rx="6.5" ry="5.2" fill="#10c0d0" filter="url(#tcb)" opacity="0.8"/><ellipse cx="651" cy="132.5" rx="4.8" ry="3.7" fill="#e8e800" filter="url(#tcb)" opacity="0.9"/><ellipse cx="651" cy="132.5" rx="3" ry="2.2" fill="#ff1000" filter="url(#tcb)"/><ellipse cx="697.5" cy="139.5" rx="5.3" ry="3.7" fill="#e8e800" filter="url(#tcb)" opacity="0.9"/><ellipse cx="697.5" cy="139.5" rx="3.5" ry="2.2" fill="#ff1000" filter="url(#tcb)"/><line x1="713.6" y1="102.5" x2="701.5" y2="127.5" stroke="#ff1818" stroke-width="2.2"/><polygon points="699,134 697.6,125.2 704.8,128.4" fill="#ff1818"/><rect x="570" y="132" width="54.5" height="3.6" fill="#fff"/></svg>
<div class="t w" style="left:570px;top:32px;">TIC*</div>
<div class="t w" style="left:569.7px;top:48.5px;font-size:12.5px;"><i>m/z</i></div>
<div class="t w" style="left:595px;top:48.5px;font-size:12.5px;">60</div>
<svg class="a" style="left:610px;top:49px" width="15" height="10"><path d="M0.8 5 H13 M8.5 1 L13.2 5 L8.5 9" stroke="#fff" stroke-width="1.6" fill="none"/></svg>
<div class="t w" style="left:624.3px;top:48.5px;font-size:12.5px;letter-spacing:-0.3px">300</div>
<div class="t w" style="left:583.5px;top:119.5px;font-size:12.5px;">1 mm</div>
<svg class="a" style="left:366px;top:142.2px" width="197" height="115" viewBox="366 142.2 197 115"><defs><filter color-interpolation-filters="sRGB" id="hhn0" x="0" y="0" width="100%" height="100%"><feTurbulence type="fractalNoise" baseFrequency="0.22 0.3" numOctaves="2" seed="21"/><feColorMatrix type="matrix" values="0 0 0 0 0.15  0 0 0 0 0.03  0 0 0 0 0.2  2.2 0 0 0 -1.1"/><feGaussianBlur stdDeviation="0.5"/></filter><filter color-interpolation-filters="sRGB" id="hhn1" x="0" y="0" width="100%" height="100%"><feTurbulence type="fractalNoise" baseFrequency="0.25 0.32" numOctaves="2" seed="27"/><feColorMatrix type="matrix" values="0 0 0 0 0.12  0 0 0 0 0.04  0 0 0 0 0.28  0 2.2 0 0 -1.5"/><feGaussianBlur stdDeviation="0.5"/></filter><filter color-interpolation-filters="sRGB" id="hhm0" x="0" y="0" width="100%" height="100%"><feTurbulence type="fractalNoise" baseFrequency="0.16 0.22" numOctaves="2" seed="31"/><feColorMatrix type="matrix" values="0 0 0 0 0.3  0 0 0 0 0.08  0 0 0 0 0.6  2.2 0 0 0 -0.9"/><feGaussianBlur stdDeviation="0.6"/></filter><filter color-interpolation-filters="sRGB" id="hhb" x="-80%" y="-80%" width="260%" height="260%"><feGaussianBlur stdDeviation="1.2"/></filter><linearGradient id="hhg" x1="0" y1="0" x2="0" y2="1"><stop offset="0" stop-color="#fff" stop-opacity="0"/><stop offset="0.35" stop-color="#fff" stop-opacity="1"/><stop offset="1" stop-color="#fff" stop-opacity="1"/></linearGradient><mask id="hhk" maskUnits="userSpaceOnUse" x="366" y="142.2" width="197" height="115"><rect x="366" y="249" width="197" height="8.199999999999989" fill="url(#hhg)"/></mask></defs><rect x="366" y="142.2" width="197" height="115" fill="#050207"/><rect x="366" y="142.2" width="197" height="115" filter="url(#hhn0)"/><rect x="366" y="142.2" width="197" height="115" filter="url(#hhn1)"/><g mask="url(#hhk)"><rect x="366" y="142.2" width="197" height="115" filter="url(#hhm0)"/></g><ellipse cx="432.4" cy="149.5" rx="2.5" ry="2" fill="#6020d0" filter="url(#hhb)"/><ellipse cx="417.5" cy="235" rx="2.5" ry="2" fill="#2040ff" filter="url(#hhb)"/><ellipse cx="451" cy="247" rx="2.8" ry="2" fill="#2040ff" filter="url(#hhb)"/><ellipse cx="497.5" cy="254.5" rx="4.8" ry="3.5" fill="#2040ff" filter="url(#hhb)" opacity="0.9"/><ellipse cx="497.5" cy="254.5" rx="3" ry="2" fill="#20a0ff" filter="url(#hhb)"/><ellipse cx="377.5" cy="238.75" rx="2.5" ry="2" fill="#5020d0" filter="url(#hhb)"/><rect x="367.6" y="247" width="55" height="3.6" fill="#fff"/></svg>
<div class="t w" style="left:369.7px;top:146px;">HHQ</div>
<div class="t w" style="left:369.7px;top:163.5px;font-size:12.8px;"><i>m/z</i> 244.18</div>
<div class="t w" style="left:385px;top:234.5px;font-size:12.5px;">1 mm</div>
<svg class="a" style="left:564.3px;top:142.2px" width="198.6" height="114.8" viewBox="564.3 142.2 198.6 114.8"><defs><filter color-interpolation-filters="sRGB" id="pqn0" x="0" y="0" width="100%" height="100%"><feTurbulence type="fractalNoise" baseFrequency="0.2 0.28" numOctaves="2" seed="31"/><feColorMatrix type="matrix" values="0 0 0 0 0.3  0 0 0 0 0.02  0 0 0 0 0.42  2.2 0 0 0 -0.95"/><feGaussianBlur stdDeviation="0.5"/></filter><filter color-interpolation-filters="sRGB" id="pqn1" x="0" y="0" width="100%" height="100%"><feTurbulence type="fractalNoise" baseFrequency="0.24 0.3" numOctaves="2" seed="37"/><feColorMatrix type="matrix" values="0 0 0 0 0.2  0 0 0 0 0.04  0 0 0 0 0.6  0 2.2 0 0 -1.4"/><feGaussianBlur stdDeviation="0.5"/></filter><filter color-interpolation-filters="sRGB" id="pqm0" x="0" y="0" width="100%" height="100%"><feTurbulence type="fractalNoise" baseFrequency="0.15 0.22" numOctaves="2" seed="41"/><feColorMatrix type="matrix" values="0 0 0 0 0.15  0 0 0 0 0.2  0 0 0 0 1.0  2.4 0 0 0 -0.6"/><feGaussianBlur stdDeviation="0.6"/></filter><filter color-interpolation-filters="sRGB" id="pqm1" x="0" y="0" width="100%" height="100%"><feTurbulence type="fractalNoise" baseFrequency="0.15 0.22" numOctaves="2" seed="43"/><feColorMatrix type="matrix" values="0 0 0 0 0.1  0 0 0 0 0.8  0 0 0 0 1.0  0 2.6 0 0 -1.3"/><feGaussianBlur stdDeviation="0.6"/></filter><filter color-interpolation-filters="sRGB" id="pqb" x="-80%" y="-80%" width="260%" height="260%"><feGaussianBlur stdDeviation="1.2"/></filter><linearGradient id="pqg" x1="0" y1="0" x2="0" y2="1"><stop offset="0" stop-color="#fff" stop-opacity="0"/><stop offset="0.35" stop-color="#fff" stop-opacity="1"/><stop offset="1" stop-color="#fff" stop-opacity="1"/></linearGradient><mask id="pqk" maskUnits="userSpaceOnUse" x="564.3" y="142.2" width="198.6" height="114.8"><rect x="564.3" y="246" width="198.6" height="11.0" fill="url(#pqg)"/></mask></defs><rect x="564.3" y="142.2" width="198.6" height="114.8" fill="#0a0210"/><rect x="564.3" y="142.2" width="198.6" height="114.8" filter="url(#pqn0)"/><rect x="564.3" y="142.2" width="198.6" height="114.8" filter="url(#pqn1)"/><g mask="url(#pqk)"><rect x="564.3" y="142.2" width="198.6" height="114.8" filter="url(#pqm0)"/><rect x="564.3" y="142.2" width="198.6" height="114.8" filter="url(#pqm1)"/></g><ellipse cx="578.75" cy="238.75" rx="4.4" ry="3.5" fill="#20a0ff" filter="url(#pqb)" opacity="0.9"/><ellipse cx="578.75" cy="238.75" rx="2.6" ry="2" fill="#50ff30" filter="url(#pqb)"/><ellipse cx="617.5" cy="235" rx="4.8" ry="3.9" fill="#20b0ff" filter="url(#pqb)" opacity="0.9"/><ellipse cx="617.5" cy="235" rx="3" ry="2.4" fill="#50ff30" filter="url(#pqb)"/><ellipse cx="651" cy="247.5" rx="5.0" ry="3.9" fill="#e0e020" filter="url(#pqb)" opacity="0.9"/><ellipse cx="651" cy="247.5" rx="3.2" ry="2.4" fill="#ff4010" filter="url(#pqb)"/><ellipse cx="697.5" cy="254.5" rx="5.8" ry="3.7" fill="#f0e000" filter="url(#pqb)" opacity="0.9"/><ellipse cx="697.5" cy="254.5" rx="4" ry="2.2" fill="#ff1010" filter="url(#pqb)"/><ellipse cx="620" cy="142.8" rx="3" ry="1.5" fill="#3050ff" filter="url(#pqb)"/><rect x="568.6" y="246.5" width="55" height="3.6" fill="#fff"/></svg>
<div class="t w" style="left:567.6px;top:147px;">PQS/HQNO</div>
<div class="t w" style="left:567.6px;top:163.5px;font-size:12.5px;"><i>m/z</i> 260.18</div>
<div class="t w" style="left:583px;top:234.5px;font-size:12.5px;">1 mm</div>
<svg class="a" style="left:366px;top:257px" width="197" height="117.5" viewBox="366 257 197 117.5"><defs><filter color-interpolation-filters="sRGB" id="c1n0" x="0" y="0" width="100%" height="100%"><feTurbulence type="fractalNoise" baseFrequency="0.2 0.28" numOctaves="2" seed="45"/><feColorMatrix type="matrix" values="0 0 0 0 0.24  0 0 0 0 0.03  0 0 0 0 0.4  2.2 0 0 0 -0.95"/><feGaussianBlur stdDeviation="0.5"/></filter><filter color-interpolation-filters="sRGB" id="c1n1" x="0" y="0" width="100%" height="100%"><feTurbulence type="fractalNoise" baseFrequency="0.24 0.3" numOctaves="2" seed="47"/><feColorMatrix type="matrix" values="0 0 0 0 0.18  0 0 0 0 0.04  0 0 0 0 0.55  0 2.2 0 0 -1.4"/><feGaussianBlur stdDeviation="0.5"/></filter><filter color-interpolation-filters="sRGB" id="c1m0" x="0" y="0" width="100%" height="100%"><feTurbulence type="fractalNoise" baseFrequency="0.15 0.22" numOctaves="2" seed="49"/><feColorMatrix type="matrix" values="0 0 0 0 0.2  0 0 0 0 0.15  0 0 0 0 1.0  2.4 0 0 0 -0.6"/><feGaussianBlur stdDeviation="0.6"/></filter><filter color-interpolation-filters="sRGB" id="c1m1" x="0" y="0" width="100%" height="100%"><feTurbulence type="fractalNoise" baseFrequency="0.15 0.22" numOctaves="2" seed="53"/><feColorMatrix type="matrix" values="0 0 0 0 0.2  0 0 0 0 0.6  0 0 0 0 1.0  0 2.6 0 0 -1.4"/><feGaussianBlur stdDeviation="0.6"/></filter><filter color-interpolation-filters="sRGB" id="c1b" x="-80%" y="-80%" width="260%" height="260%"><feGaussianBlur stdDeviation="1.2"/></filter><linearGradient id="c1g" x1="0" y1="0" x2="0" y2="1"><stop offset="0" stop-color="#fff" stop-opacity="0"/><stop offset="0.35" stop-color="#fff" stop-opacity="1"/><stop offset="1" stop-color="#fff" stop-opacity="1"/></linearGradient><mask id="c1k" maskUnits="userSpaceOnUse" x="366" y="257" width="197" height="117.5"><rect x="366" y="362" width="197" height="12.5" fill="url(#c1g)"/></mask></defs><rect x="366" y="257" width="197" height="117.5" fill="#0c0212"/><rect x="366" y="257" width="197" height="117.5" filter="url(#c1n0)"/><rect x="366" y="257" width="197" height="117.5" filter="url(#c1n1)"/><g mask="url(#c1k)"><rect x="366" y="257" width="197" height="117.5" filter="url(#c1m0)"/><rect x="366" y="257" width="197" height="117.5" filter="url(#c1m1)"/></g><ellipse cx="435" cy="267" rx="7.1" ry="5" fill="#2030ff" filter="url(#c1b)" opacity="0.8"/><ellipse cx="435" cy="267" rx="5.4" ry="3.5" fill="#10a0ff" filter="url(#c1b)" opacity="0.9"/><ellipse cx="435" cy="267" rx="3.6" ry="2" fill="#40f0a0" filter="url(#c1b)"/><ellipse cx="378.75" cy="355.5" rx="4.6" ry="3.5" fill="#2060ff" filter="url(#c1b)" opacity="0.9"/><ellipse cx="378.75" cy="355.5" rx="2.8" ry="2" fill="#40e0a0" filter="url(#c1b)"/><ellipse cx="417.5" cy="351" rx="4.8" ry="4.1" fill="#20a0ff" filter="url(#c1b)" opacity="0.9"/><ellipse cx="417.5" cy="351" rx="3" ry="2.6" fill="#c0e030" filter="url(#c1b)"/><ellipse cx="452" cy="364.5" rx="5.0" ry="3.9" fill="#f0e000" filter="url(#c1b)" opacity="0.9"/><ellipse cx="452" cy="364.5" rx="3.2" ry="2.4" fill="#ff6010" filter="url(#c1b)"/><ellipse cx="500" cy="371" rx="5.8" ry="3.7" fill="#f0e000" filter="url(#c1b)" opacity="0.9"/><ellipse cx="500" cy="371" rx="4" ry="2.2" fill="#ff2010" filter="url(#c1b)"/><ellipse cx="512.5" cy="368.75" rx="4" ry="2" fill="#40e0a0" filter="url(#c1b)"/><rect x="367.4" y="366.3" width="55" height="3.6" fill="#fff"/></svg>
<div class="t w" style="left:367.4px;top:262.5px;">C<sub style="font-size:8px;vertical-align:-2px">9:1</sub>-NQNO</div>
<div class="t w" style="left:367.4px;top:279px;font-size:12.5px;"><i>m/z</i> 286.21</div>
<div class="t w" style="left:383.6px;top:355px;font-size:12.5px;">1 mm</div>
<svg class="a" style="left:564.3px;top:257px" width="199.7" height="118.2" viewBox="564.3 257 199.7 118.2"><defs><filter color-interpolation-filters="sRGB" id="c2n0" x="0" y="0" width="100%" height="100%"><feTurbulence type="fractalNoise" baseFrequency="0.16 0.24" numOctaves="2" seed="55"/><feColorMatrix type="matrix" values="0 0 0 0 0.3  0 0 0 0 0.04  0 0 0 0 0.66  2.2 0 0 0 -0.6"/><feGaussianBlur stdDeviation="0.6"/></filter><filter color-interpolation-filters="sRGB" id="c2n1" x="0" y="0" width="100%" height="100%"><feTurbulence type="fractalNoise" baseFrequency="0.2 0.28" numOctaves="2" seed="57"/><feColorMatrix type="matrix" values="0 0 0 0 0.18  0 0 0 0 0.14  0 0 0 0 0.95  0 2.2 0 0 -1.25"/><feGaussianBlur stdDeviation="0.5"/></filter><filter color-interpolation-filters="sRGB" id="c2n2" x="0" y="0" width="100%" height="100%"><feTurbulence type="fractalNoise" baseFrequency="0.14 0.22" numOctaves="2" seed="59"/><feColorMatrix type="matrix" values="0 0 0 0 0.2  0 0 0 0 0.0  0 0 0 0 0.2  0 0 2.2 0 -1.05"/><feGaussianBlur stdDeviation="0.6"/></filter><filter color-interpolation-filters="sRGB" id="c2m0" x="0" y="0" width="100%" height="100%"><feTurbulence type="fractalNoise" baseFrequency="0.15 0.22" numOctaves="2" seed="61"/><feColorMatrix type="matrix" values="0 0 0 0 0.15  0 0 0 0 0.3  0 0 0 0 1.0  2.4 0 0 0 -0.4"/><feGaussianBlur stdDeviation="0.6"/></filter><filter color-interpolation-filters="sRGB" id="c2m1" x="0" y="0" width="100%" height="100%"><feTurbulence type="fractalNoise" baseFrequency="0.15 0.22" numOctaves="2" seed="63"/><feColorMatrix type="matrix" values="0 0 0 0 0.2  0 0 0 0 0.95  0 0 0 0 0.4  0 2.6 0 0 -1.0"/><feGaussianBlur stdDeviation="0.6"/></filter><filter color-interpolation-filters="sRGB" id="c2m2" x="0" y="0" width="100%" height="100%"><feTurbulence type="fractalNoise" baseFrequency="0.15 0.22" numOctaves="2" seed="67"/><feColorMatrix type="matrix" values="0 0 0 0 0.1  0 0 0 0 0.85  0 0 0 0 0.95  0 0 2.6 0 -1.1"/><feGaussianBlur stdDeviation="0.6"/></filter><filter color-interpolation-filters="sRGB" id="c2m3" x="0" y="0" width="100%" height="100%"><feTurbulence type="fractalNoise" baseFrequency="0.18 0.25" numOctaves="2" seed="71"/><feColorMatrix type="matrix" values="0 0 0 0 0.95  0 0 0 0 0.85  0 0 0 0 0.1  2.6 0 0 0 -1.4"/><feGaussianBlur stdDeviation="0.5"/></filter><filter color-interpolation-filters="sRGB" id="c2b" x="-80%" y="-80%" width="260%" height="260%"><feGaussianBlur stdDeviation="1.2"/></filter><linearGradient id="c2g" x1="0" y1="0" x2="0" y2="1"><stop offset="0" stop-color="#fff" stop-opacity="0"/><stop offset="0.35" stop-color="#fff" stop-opacity="1"/><stop offset="1" stop-color="#fff" stop-opacity="1"/></linearGradient><mask id="c2k" maskUnits="userSpaceOnUse" x="564.3" y="257" width="199.7" height="118.2"><rect x="564.3" y="359.5" width="199.7" height="15.699999999999989" fill="url(#c2g)"/></mask></defs><rect x="564.3" y="257" width="199.7" height="118.2" fill="#1a0640"/><rect x="564.3" y="257" width="199.7" height="118.2" filter="url(#c2n0)"/><rect x="564.3" y="257" width="199.7" height="118.2" filter="url(#c2n1)"/><rect x="564.3" y="257" width="199.7" height="118.2" filter="url(#c2n2)"/><g mask="url(#c2k)"><rect x="564.3" y="257" width="199.7" height="118.2" filter="url(#c2m0)"/><rect x="564.3" y="257" width="199.7" height="118.2" filter="url(#c2m1)"/><rect x="564.3" y="257" width="199.7" height="118.2" filter="url(#c2m2)"/><rect x="564.3" y="257" width="199.7" height="118.2" filter="url(#c2m3)"/></g><ellipse cx="578.75" cy="355.5" rx="4.8" ry="3.7" fill="#f0e000" filter="url(#c2b)" opacity="0.9"/><ellipse cx="578.75" cy="355.5" rx="3" ry="2.2" fill="#ff2010" filter="url(#c2b)"/><ellipse cx="618.75" cy="351" rx="5.0" ry="4.1" fill="#f0e000" filter="url(#c2b)" opacity="0.9"/><ellipse cx="618.75" cy="351" rx="3.2" ry="2.6" fill="#ff2010" filter="url(#c2b)"/><ellipse cx="652.5" cy="364.5" rx="5.0" ry="3.9" fill="#f0e000" filter="url(#c2b)" opacity="0.9"/><ellipse cx="652.5" cy="364.5" rx="3.2" ry="2.4" fill="#ff2010" filter="url(#c2b)"/><ellipse cx="701" cy="371" rx="8.8" ry="4.0" fill="#f0e000" filter="url(#c2b)" opacity="0.9"/><ellipse cx="701" cy="371" rx="7" ry="2.5" fill="#ff1010" filter="url(#c2b)"/><ellipse cx="735" cy="372" rx="4" ry="2" fill="#e0e030" filter="url(#c2b)"/><rect x="567.4" y="366.3" width="55" height="3.6" fill="#fff"/></svg>
<div class="t w" style="left:569.4px;top:264px;">C<sub style="font-size:8px;vertical-align:-2px">9</sub>-PQS/NQNO</div>
<div class="t w" style="left:569.4px;top:280.5px;font-size:12.5px;"><i>m/z</i> 288.21</div>
<div class="t w" style="left:585.3px;top:355px;font-size:12.5px;">1 mm</div>
<div class="a" style="left:766.7px;top:28.3px;width:12.2px;height:343.7px;background:linear-gradient(to bottom,#ff0000 0%,#ff1800 4%,#ff6000 9%,#ffa000 13%,#ffff00 18.5%,#a0ff00 24.5%,#00ff00 32.5%,#00ff80 47%,#00ffff 53.5%,#00a0ff 60%,#0000ff 70%,#3000e0 79%,#5000a8 86%,#300060 92%,#0a000a 100%);"></div>
<div class="t" style="left:785.5px;top:27.5px;font-size:12px;color:#333;">50</div>
<div class="t" style="left:783px;top:362.5px;font-size:11.5px;color:#333;">0</div>
</div></body></html>
